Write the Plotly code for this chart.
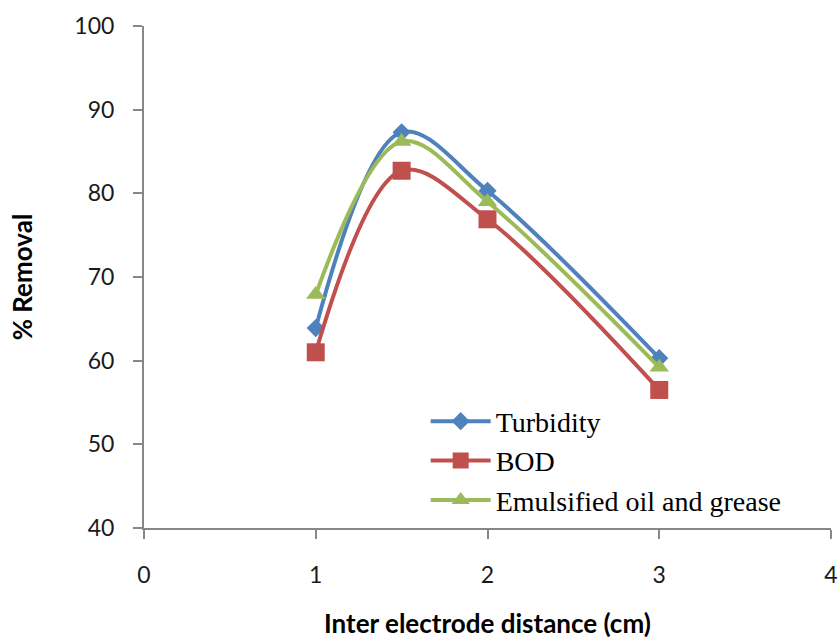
import plotly.graph_objects as go

distance = [1, 1.5, 2, 3]
turbidity = [63.9, 87.3, 80.3, 60.3]
bod = [61.0, 82.7, 76.9, 56.5]
oil_grease = [67.9, 86.2, 79.0, 59.2]

series = [
    ("Turbidity", turbidity, "#4F81BD", "diamond", 14),
    ("BOD", bod, "#C0504D", "square", 18),
    ("Emulsified oil and grease", oil_grease, "#9BBB59", "triangle-up", 17),
]

fig = go.Figure()
for name, vals, col, sym, size in series:
    fig.add_trace(go.Scatter(
        x=distance, y=vals, name=name, mode="lines+markers",
        line=dict(color=col, width=4, shape="spline", smoothing=1.0),
        marker=dict(symbol=sym, size=size, color=col),
    ))

axis_font = dict(family="Lato, Carlito, sans-serif", size=23, color="#1a1a1a")
title_font = dict(family="Lato, Carlito, sans-serif", size=26, color="black")
fig.update_layout(
    width=838, height=639,
    margin=dict(l=144, r=7, t=26, b=111),
    paper_bgcolor="white", plot_bgcolor="white",
    showlegend=True,
    legend=dict(
        x=0.41, y=0.262, xanchor="left", yanchor="top",
        font=dict(family="Liberation Serif, Times New Roman, serif", size=28, color="black"),
        bgcolor="rgba(0,0,0,0)", tracegroupgap=0, itemwidth=60,
    ),
    xaxis=dict(
        range=[0, 4], tickvals=[0, 1, 2, 3, 4], showgrid=False, zeroline=False,
        showline=True, linecolor="#878787", linewidth=2,
        ticks="outside", ticklen=9, tickcolor="#878787", tickwidth=2,
        tickfont=axis_font, ticklabelstandoff=16, automargin=False,
        title=dict(text="<b>Inter electrode distance (cm)</b>", font=title_font, standoff=30),
    ),
    yaxis=dict(
        range=[40, 100], tickvals=[40, 50, 60, 70, 80, 90, 100], showgrid=False, zeroline=False,
        showline=True, linecolor="#878787", linewidth=2,
        ticks="outside", ticklen=9, tickcolor="#878787", tickwidth=2,
        tickfont=axis_font, ticklabelstandoff=14, automargin=False,
        title=dict(text="<b>% Removal</b>", font=title_font, standoff=34),
    ),
)

fig.write_html("out.html")
